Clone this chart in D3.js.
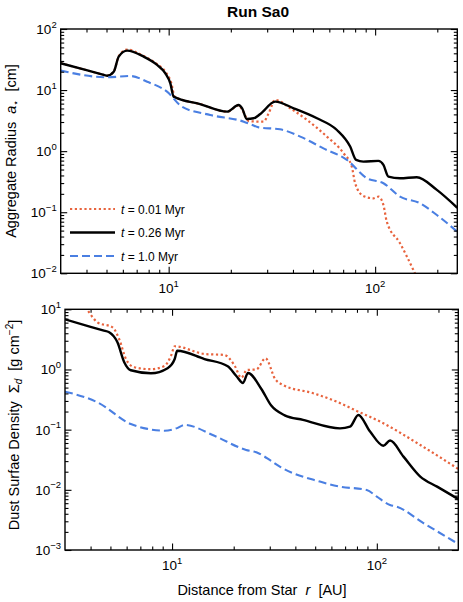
<!DOCTYPE html>
<html>
<head>
<meta charset="utf-8">
<script src="https://cdn.jsdelivr.net/npm/d3@7"></script>
<style>
  body { margin: 0; background: #fff; }
  svg { display: block; font-family: "Liberation Sans", Arial, Helvetica, sans-serif; }
  .lbl { white-space: pre; }
</style>
</head>
<body>
<div id="chart"></div>
<script>
/* ============================================================
   Run Sa0: aggregate radius and dust surface density vs r
   ============================================================ */

// [r (AU), value]
const radius001 = [[3, 27.5], [4.0, 21.2], [4.7, 18.3], [5.03, 17.2], [5.42, 20.0], [5.73, 36], [6.3, 46],
  [7.57, 36], [8.79, 26.5], [9.64, 20], [10.3, 13], [10.7, 7.8], [14.2, 5.9], [19.2, 4.43], [21.8, 5.6],
  [22.7, 4.8], [24.5, 3.1], [28.8, 3.04], [30.5, 4.17], [32.8, 6.9], [38.8, 5.03], [46.8, 3.24],
  [58.4, 1.73], [70.3, 0.925], [77.1, 0.557], [80, 0.298], [87.7, 0.185], [98.1, 0.169], [103.8, 0.18],
  [109.7, 0.131], [113.9, 0.07], [132, 0.031], [153, 0.0114], [158, 0.009]];
const radius026 = [[3, 27.5], [4.0, 21.2], [4.7, 18.3], [5.03, 17.2], [5.42, 20.0], [5.73, 35.3], [6.3, 44.2],
  [7.57, 35.3], [8.79, 25.8], [9.64, 18.8], [10.19, 12.9], [10.57, 7.8], [14.2, 5.9], [19.2, 4.43],
  [21.8, 5.7], [22.7, 5.03], [23.9, 3.37], [25.8, 3.45], [27.8, 4.06], [32.8, 6.46], [40.3, 5.03],
  [52.3, 3.45], [65.3, 2.22], [75.7, 1.19], [80.9, 0.718], [87.7, 0.673], [103.7, 0.692], [109.7, 0.594],
  [115.9, 0.383], [132, 0.36], [159, 0.374], [199, 0.232], [250, 0.118]];
const radius100 = [[3, 20.8], [5.03, 16.2], [6.53, 17.0], [7.87, 13.7], [9.82, 9.42], [11.6, 5.35],
  [15.9, 3.91], [23.1, 3.04], [25, 2.75], [27.3, 2.45], [34.6, 2.28], [43.4, 1.73], [56.2, 1.11],
  [73, 0.718], [91.2, 0.36], [109.7, 0.298], [132, 0.18], [165, 0.14], [199, 0.09], [250, 0.048]];

const sigma001 = [[3.5, 14], [3.81, 10.2], [4.32, 6.08], [5.12, 5.02], [5.52, 3.18], [5.96, 1.48],
  [6.54, 1.09], [7.89, 1.01], [9.17, 1.14], [9.89, 1.7], [10.3, 2.43], [14.4, 1.81], [18.0, 1.74],
  [20.2, 1.16], [21.8, 0.73], [23.2, 0.98], [25.8, 1.0], [28.6, 1.53], [31.9, 0.69], [34.8, 0.553],
  [48.9, 0.403], [63.7, 0.292], [81.2, 0.199], [103.8, 0.136], [163, 0.0557], [254, 0.0214]];
const sigma026 = [[3, 6.82], [4.0, 5.12], [4.6, 4.45], [4.93, 4.15], [5.41, 2.83], [5.84, 1.32], [6.29, 0.97],
  [7.89, 0.865], [9.51, 1.05], [10.3, 1.49], [10.6, 2.05], [14.4, 1.49], [18.7, 1.13], [20.6, 0.78],
  [22.2, 0.597], [23.5, 0.875], [27.3, 0.474], [30.5, 0.251], [35.5, 0.173], [43.6, 0.145], [66.1, 0.105],
  [74, 0.112], [81.2, 0.175], [92.7, 0.093], [107.6, 0.054], [116.1, 0.066], [135, 0.0356], [163, 0.0166],
  [197, 0.0113], [254, 0.0068]];
const sigma100 = [[3, 0.428], [4.32, 0.285], [6.29, 0.124], [7.59, 0.103], [9.17, 0.096], [10.5, 0.105],
  [11.5, 0.12], [16.1, 0.079], [23.0, 0.046], [25.8, 0.0421], [30.5, 0.0302], [33.6, 0.0243], [52.7, 0.0137],
  [66, 0.0113], [89.3, 0.00996], [100, 0.0077], [116, 0.0056], [125, 0.00526], [169, 0.0028], [254, 0.00122]];

const legendTimes = ['0.01', '0.26', '1.0'];
const rDomain = [3, 250];
const rMajor = [10, 100];

const COLORS = { t001: '#e8633d', t026: '#000000', t100: '#4a7fe2' };
const STYLES = [
  { key: 't001', width: 2.2, dash: '2.2,2.6' },
  { key: 't026', width: 2.4, dash: null },
  { key: 't100', width: 2.1, dash: '8,4' }
];

const W = 463, H = 602;
const svg = d3.select('#chart').append('svg').attr('width', W).attr('height', H);

function minorTicks(lo, hi) {
  const out = [];
  for (let e = Math.floor(Math.log10(lo)); e <= Math.ceil(Math.log10(hi)); e++) {
    for (let k = 2; k <= 9; k++) {
      const v = k * Math.pow(10, e);
      if (v > lo * 1.001 && v < hi * 0.999) out.push(v);
    }
  }
  return out;
}

function powLabel(sel, x, y, exp, anchor) {
  const t = sel.append('text').attr('x', x).attr('y', y).attr('text-anchor', anchor)
    .attr('font-size', 13.5).text('10');
  t.append('tspan').attr('dy', -6.5).attr('font-size', 9.5).text(String(exp).replace('-', '\u2212'));
  return t;
}

function panel(cfg) {
  const { x0, x1, y0, y1, yDomain, series, id } = cfg;
  const x = d3.scaleLog().domain(rDomain).range([x0, x1]);
  const y = d3.scaleLog().domain(yDomain).range([y1, y0]);
  const g = svg.append('g');

  g.append('clipPath').attr('id', id).append('rect')
    .attr('x', x0).attr('y', y0).attr('width', x1 - x0).attr('height', y1 - y0);

  const line = d3.line().x(d => x(d[0])).y(d => y(d[1])).curve(d3.curveMonotoneX);
  const curves = g.append('g').attr('clip-path', `url(#${id})`);
  series.forEach((s, i) => {
    const st = STYLES[i];
    curves.append('path').attr('d', line(s)).attr('fill', 'none')
      .attr('stroke', COLORS[st.key]).attr('stroke-width', st.width)
      .attr('stroke-dasharray', st.dash).attr('stroke-linejoin', 'round');
  });

  // frame and inward ticks on all four sides
  const yMajor = d3.range(Math.log10(yDomain[0]), Math.log10(yDomain[1]) + 1).map(e => Math.pow(10, e));
  const addAxis = (axis, tr, vals, size) => {
    g.append('g').attr('transform', tr)
      .call(axis.tickValues(vals).tickSize(size).tickSizeOuter(0).tickFormat(''))
      .call(a => a.select('.domain').remove())
      .call(a => a.selectAll('line').attr('stroke', '#000').attr('stroke-width', 1.1));
  };
  [[6.5, rMajor], [3.5, minorTicks(...rDomain)]].forEach(([sz, vals]) => {
    addAxis(d3.axisBottom(x), `translate(0,${y1})`, vals, -sz);
    addAxis(d3.axisTop(x), `translate(0,${y0})`, vals, -sz);
  });
  [[6.5, yMajor], [3.5, minorTicks(...yDomain)]].forEach(([sz, vals]) => {
    addAxis(d3.axisLeft(y), `translate(${x0},0)`, vals, -sz);
    addAxis(d3.axisRight(y), `translate(${x1},0)`, vals, -sz);
  });
  g.append('rect').attr('x', x0).attr('y', y0).attr('width', x1 - x0).attr('height', y1 - y0)
    .attr('fill', 'none').attr('stroke', '#000').attr('stroke-width', 1.4);

  yMajor.forEach(v => powLabel(g, x0 - 4, y(v) + 5, Math.round(Math.log10(v)), 'end'));
  rMajor.forEach(v => powLabel(g, x(v), y1 + 20, Math.round(Math.log10(v)), 'middle'));

  return { g, x, y };
}

// Title
svg.append('text').attr('x', 258).attr('y', 17).attr('text-anchor', 'middle')
  .attr('font-size', 15.5).attr('font-weight', 'bold').text('Run Sa0');

// Top panel: aggregate radius
const topPanel = panel({ id: 'clipTop', x0: 60.7, x1: 457.3, y0: 29, y1: 273.3, yDomain: [1e-2, 1e2],
  series: [radius001, radius026, radius100] });

const yl1 = svg.append('text').attr('class', 'lbl').attr('font-size', 14.5)
  .attr('transform', 'translate(16,151) rotate(-90)').attr('text-anchor', 'middle');
yl1.append('tspan').text('Aggregate Radius  ');
yl1.append('tspan').attr('font-style', 'italic').text('a');
yl1.append('tspan').attr('font-size', 10).attr('dy', 3).text('\u22c6');
yl1.append('tspan').attr('dy', -3).text('  [cm]');

// Legend
const leg = topPanel.g.append('g');
legendTimes.forEach((t, i) => {
  const st = STYLES[i];
  const ly = 209 + i * 23.5;
  leg.append('line').attr('x1', 70).attr('x2', 115).attr('y1', ly).attr('y2', ly)
    .attr('stroke', COLORS[st.key]).attr('stroke-width', st.width).attr('stroke-dasharray', st.dash);
  const tx = leg.append('text').attr('class', 'lbl').attr('x', 121).attr('y', ly + 4.5).attr('font-size', 12);
  tx.append('tspan').attr('font-style', 'italic').text('t');
  tx.append('tspan').text(` = ${t} Myr`);
});

// Bottom panel: dust surface density
panel({ id: 'clipBot', x0: 65, x1: 458.3, y0: 309.3, y1: 550, yDomain: [1e-3, 1e1],
  series: [sigma001, sigma026, sigma100] });

const yl2 = svg.append('text').attr('class', 'lbl').attr('font-size', 14.5)
  .attr('transform', 'translate(19,425) rotate(-90)').attr('text-anchor', 'middle');
yl2.append('tspan').text('Dust Surfae Density  ');
yl2.append('tspan').text('\u03a3');
yl2.append('tspan').attr('font-style', 'italic').attr('font-size', 10).attr('dy', 3).text('d');
yl2.append('tspan').attr('dy', -3).text('  [g cm');
yl2.append('tspan').attr('font-size', 10).attr('dy', -6).text('\u22122');
yl2.append('tspan').attr('dy', 6).text(']');

// X label
const xl = svg.append('text').attr('class', 'lbl').attr('x', 262).attr('y', 595)
  .attr('text-anchor', 'middle').attr('font-size', 14.5);
xl.append('tspan').text('Distance from Star  ');
xl.append('tspan').attr('font-style', 'italic').text('r');
xl.append('tspan').text('  [AU]');
</script>
</body>
</html>
